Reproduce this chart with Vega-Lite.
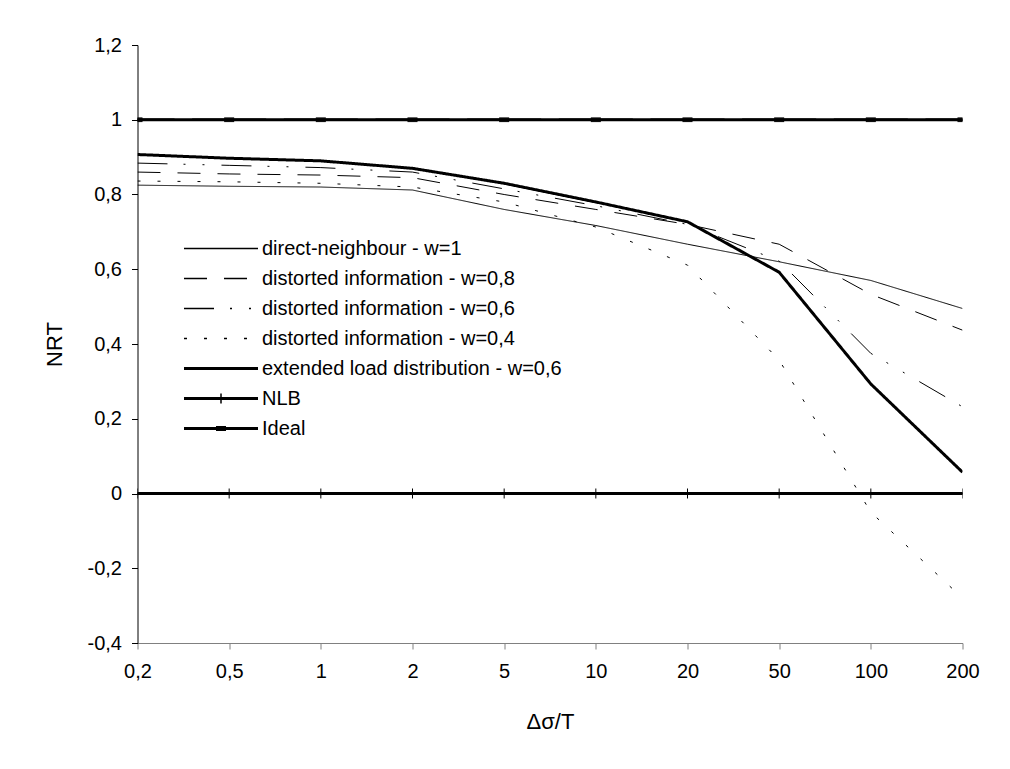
{
  "$schema": "https://vega.github.io/schema/vega-lite/v6.json",
  "width": 825,
  "height": 598,
  "autosize": {"type": "none"},
  "padding": {"left": 137.5, "top": 45, "right": 47.5, "bottom": 126},
  "background": "white",
  "config": {"view": {"stroke": null}, "font": "Liberation Sans"},
  "data": {"values": [
    {"x": "0,2", "series": "direct-neighbour - w=1", "nrt": 0.825},
    {"x": "0,5", "series": "direct-neighbour - w=1", "nrt": 0.822},
    {"x": "1", "series": "direct-neighbour - w=1", "nrt": 0.82},
    {"x": "2", "series": "direct-neighbour - w=1", "nrt": 0.812},
    {"x": "5", "series": "direct-neighbour - w=1", "nrt": 0.76},
    {"x": "10", "series": "direct-neighbour - w=1", "nrt": 0.717},
    {"x": "20", "series": "direct-neighbour - w=1", "nrt": 0.667},
    {"x": "50", "series": "direct-neighbour - w=1", "nrt": 0.62},
    {"x": "100", "series": "direct-neighbour - w=1", "nrt": 0.57},
    {"x": "200", "series": "direct-neighbour - w=1", "nrt": 0.495},
    {"x": "0,2", "series": "distorted information - w=0,8", "nrt": 0.86},
    {"x": "0,5", "series": "distorted information - w=0,8", "nrt": 0.855},
    {"x": "1", "series": "distorted information - w=0,8", "nrt": 0.852},
    {"x": "2", "series": "distorted information - w=0,8", "nrt": 0.845},
    {"x": "5", "series": "distorted information - w=0,8", "nrt": 0.8},
    {"x": "10", "series": "distorted information - w=0,8", "nrt": 0.76},
    {"x": "20", "series": "distorted information - w=0,8", "nrt": 0.72},
    {"x": "50", "series": "distorted information - w=0,8", "nrt": 0.667},
    {"x": "100", "series": "distorted information - w=0,8", "nrt": 0.533},
    {"x": "200", "series": "distorted information - w=0,8", "nrt": 0.437},
    {"x": "0,2", "series": "distorted information - w=0,6", "nrt": 0.884},
    {"x": "0,5", "series": "distorted information - w=0,6", "nrt": 0.878},
    {"x": "1", "series": "distorted information - w=0,6", "nrt": 0.872},
    {"x": "2", "series": "distorted information - w=0,6", "nrt": 0.86},
    {"x": "5", "series": "distorted information - w=0,6", "nrt": 0.815},
    {"x": "10", "series": "distorted information - w=0,6", "nrt": 0.77},
    {"x": "20", "series": "distorted information - w=0,6", "nrt": 0.72},
    {"x": "50", "series": "distorted information - w=0,6", "nrt": 0.622},
    {"x": "100", "series": "distorted information - w=0,6", "nrt": 0.375},
    {"x": "200", "series": "distorted information - w=0,6", "nrt": 0.232},
    {"x": "0,2", "series": "distorted information - w=0,4", "nrt": 0.836},
    {"x": "0,5", "series": "distorted information - w=0,4", "nrt": 0.834},
    {"x": "1", "series": "distorted information - w=0,4", "nrt": 0.83},
    {"x": "2", "series": "distorted information - w=0,4", "nrt": 0.82},
    {"x": "5", "series": "distorted information - w=0,4", "nrt": 0.78},
    {"x": "10", "series": "distorted information - w=0,4", "nrt": 0.713},
    {"x": "20", "series": "distorted information - w=0,4", "nrt": 0.611},
    {"x": "50", "series": "distorted information - w=0,4", "nrt": 0.357},
    {"x": "100", "series": "distorted information - w=0,4", "nrt": -0.05},
    {"x": "200", "series": "distorted information - w=0,4", "nrt": -0.28},
    {"x": "0,2", "series": "extended load distribution - w=0,6", "nrt": 0.907},
    {"x": "0,5", "series": "extended load distribution - w=0,6", "nrt": 0.897},
    {"x": "1", "series": "extended load distribution - w=0,6", "nrt": 0.89},
    {"x": "2", "series": "extended load distribution - w=0,6", "nrt": 0.87},
    {"x": "5", "series": "extended load distribution - w=0,6", "nrt": 0.83},
    {"x": "10", "series": "extended load distribution - w=0,6", "nrt": 0.78},
    {"x": "20", "series": "extended load distribution - w=0,6", "nrt": 0.727},
    {"x": "50", "series": "extended load distribution - w=0,6", "nrt": 0.592},
    {"x": "100", "series": "extended load distribution - w=0,6", "nrt": 0.293},
    {"x": "200", "series": "extended load distribution - w=0,6", "nrt": 0.057},
    {"x": "0,2", "series": "NLB", "nrt": 0},
    {"x": "0,5", "series": "NLB", "nrt": 0},
    {"x": "1", "series": "NLB", "nrt": 0},
    {"x": "2", "series": "NLB", "nrt": 0},
    {"x": "5", "series": "NLB", "nrt": 0},
    {"x": "10", "series": "NLB", "nrt": 0},
    {"x": "20", "series": "NLB", "nrt": 0},
    {"x": "50", "series": "NLB", "nrt": 0},
    {"x": "100", "series": "NLB", "nrt": 0},
    {"x": "200", "series": "NLB", "nrt": 0},
    {"x": "0,2", "series": "Ideal", "nrt": 1},
    {"x": "0,5", "series": "Ideal", "nrt": 1},
    {"x": "1", "series": "Ideal", "nrt": 1},
    {"x": "2", "series": "Ideal", "nrt": 1},
    {"x": "5", "series": "Ideal", "nrt": 1},
    {"x": "10", "series": "Ideal", "nrt": 1},
    {"x": "20", "series": "Ideal", "nrt": 1},
    {"x": "50", "series": "Ideal", "nrt": 1},
    {"x": "100", "series": "Ideal", "nrt": 1},
    {"x": "200", "series": "Ideal", "nrt": 1}
  ]},
  "encoding": {
    "x": {
      "field": "x", "type": "ordinal",
      "scale": {"type": "point", "padding": 0, "domain": ["0,2", "0,5", "1", "2", "5", "10", "20", "50", "100", "200"]},
      "axis": {
        "title": "Δσ/T", "titleFontSize": 22, "titleFontWeight": "normal", "titleColor": "black", "titlePadding": 30,
        "labelAngle": 0, "labelFontSize": 20, "labelColor": "black", "labelPadding": 12,
        "tickSize": 6, "tickColor": "#808080", "domainColor": "#808080", "grid": false
      }
    },
    "y": {
      "field": "nrt", "type": "quantitative",
      "scale": {"domain": [-0.4, 1.2], "nice": false, "zero": false},
      "axis": {
        "title": "NRT", "titleFontSize": 22, "titleFontWeight": "normal", "titleColor": "black", "titlePadding": 21,
        "values": [-0.4, -0.2, 0, 0.2, 0.4, 0.6, 0.8, 1, 1.2],
        "labelExpr": "replace(replace(format(datum.value, '.1~f'), '.', ','), '\u2212', '-')",
        "labelFontSize": 20, "labelColor": "black", "labelPadding": 10,
        "tickSize": 6, "tickColor": "black", "domainColor": "black", "grid": false
      }
    }
  },
  "layer": [
    {
      "mark": {"type": "line", "color": "black", "clip": true, "strokeCap": "butt"},
      "encoding": {
        "strokeDash": {
          "field": "series", "type": "nominal",
          "scale": {
            "domain": ["direct-neighbour - w=1", "distorted information - w=0,8", "distorted information - w=0,6", "distorted information - w=0,4", "extended load distribution - w=0,6", "NLB", "Ideal"],
            "range": [[1, 0], [23, 17], [30, 16, 2, 17, 2, 17], [3, 17], [1, 0], [1, 0], [1, 0]]
          },
          "legend": {
            "orient": "none", "legendX": 64, "legendY": 184, "title": null,
            "labelFontSize": 20, "labelColor": "black", "labelLimit": 600, "labelOffset": 21.5,
            "symbolSize": 1369, "rowPadding": -7, "symbolOpacity": 1
          }
        },
        "strokeWidth": {
          "condition": {"test": "indexof(['extended load distribution - w=0,6', 'NLB', 'Ideal'], datum.series) >= 0", "value": 3},
          "value": 1
        }
      }
    },
    {
      "transform": [{"filter": "datum.series == 'NLB' || datum.series == 'Ideal'"}],
      "mark": {"type": "point", "filled": true, "fill": "black", "stroke": "black", "strokeWidth": 1, "size": 1369, "opacity": 1, "clip": true},
      "encoding": {
        "shape": {
          "field": "series", "type": "nominal",
          "scale": {
            "domain": ["direct-neighbour - w=1", "distorted information - w=0,8", "distorted information - w=0,6", "distorted information - w=0,4", "extended load distribution - w=0,6", "NLB", "Ideal"],
            "range": [
              "M-2,0H2", "M-2,0H2", "M-2,0H2", "M-2,0H2",
              "M-2,-0.04H2M-2,0H2M-2,0.04H2",
              "M-2,-0.04H2M-2,0H2M-2,0.04H2M0,-0.27V0.27",
              "M-2,-0.04H2M-2,0H2M-2,0.04H2M-0.27,-0.1H0.27M-0.27,-0.05H0.27M-0.27,0H0.27M-0.27,0.05H0.27M-0.27,0.1H0.27"
            ]
          },
          "legend": {
            "orient": "none", "legendX": 64, "legendY": 184, "title": null,
            "labelFontSize": 20, "labelColor": "black", "labelLimit": 600, "labelOffset": 21.5,
            "symbolSize": 1369, "rowPadding": -7, "symbolOpacity": 1
          }
        }
      }
    }
  ]
}
